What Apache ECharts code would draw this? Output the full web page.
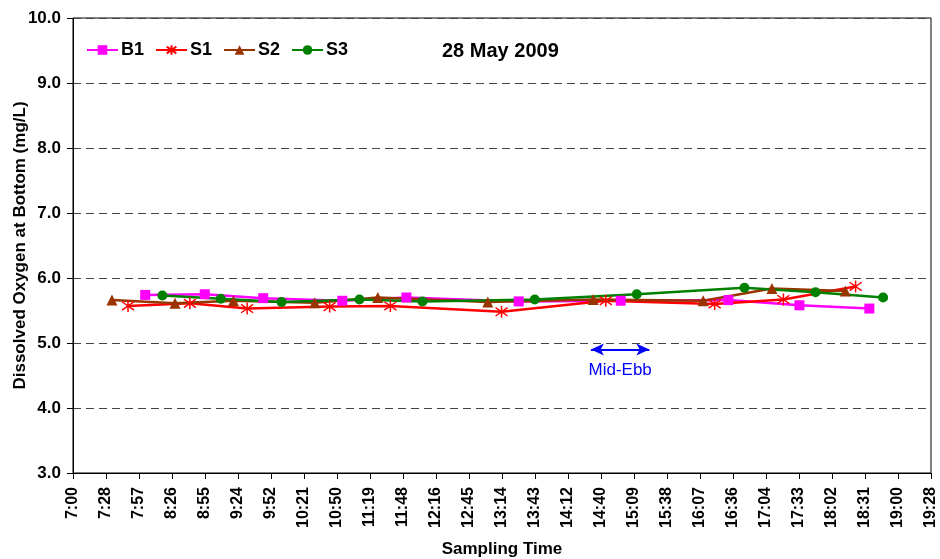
<!DOCTYPE html>
<html>
<head>
<meta charset="utf-8">
<script src="https://cdn.jsdelivr.net/npm/echarts@6/dist/echarts.min.js"></script>
<style>
	html, body { margin: 0; padding: 0; background: #fff; }
	#chart { width: 940px; height: 559px; }
</style>
</head>
<body>
<div id="chart"></div>
<script>
// sampling times and dissolved oxygen (mg/L)
const b1Times = ["8:03", "8:55", "9:46", "10:55", "11:51", "13:29", "14:58", "16:32", "17:34", "18:35"]
const b1Values = [5.74, 5.75, 5.69, 5.65, 5.70, 5.64, 5.65, 5.66, 5.58, 5.53]
const s1Times = ["7:48", "8:42", "9:32", "10:44", "11:37", "13:14", "14:45", "16:20", "17:20", "18:23"]
const s1Values = [5.57, 5.61, 5.53, 5.56, 5.57, 5.48, 5.65, 5.60, 5.67, 5.87]
const s2Times = ["7:34", "8:29", "9:20", "10:31", "11:26", "13:02", "14:34", "16:10", "17:10", "18:14"]
const s2Values = [5.66, 5.61, 5.65, 5.62, 5.70, 5.63, 5.67, 5.65, 5.84, 5.80]
const s3Times = ["8:18", "9:09", "10:02", "11:10", "12:05", "13:43", "15:12", "16:46", "17:48", "18:47"]
const s3Values = [5.73, 5.68, 5.63, 5.67, 5.64, 5.67, 5.75, 5.85, 5.78, 5.70]
const midEbb = ["14:32", "15:23"]
const midEbbLevel = 4.9

// x axis runs from 7:00, one tick every 0.02 day (28.8 min)
const startMin = 7 * 60
const tickStep = 28.8
const tickCount = 26

const toX = (t) => {
	let p = t.split(":")
	return Number(p[0]) * 60 + Number(p[1]) - startMin
}
const pairs = (times, values) => times.map((t, i) => [toX(t), values[i]])
const timeLabel = (v) => {
	let t = Math.floor(startMin + v + 1e-6)
	let m = t % 60
	return Math.floor(t / 60) + ":" + (m < 10 ? "0" + m : m)
}

const asterisk = "path://M5,0L5,10M0.7,1.5L9.3,8.5M0.7,8.5L9.3,1.5"

let chart = echarts.init(document.getElementById("chart"))
let boldText = { fontFamily: "Arial", fontWeight: "bold", color: "#000" }
let option = {
	animation: false,
	backgroundColor: "#fff",
	title: {
		text: "28 May 2009",
		left: 442,
		top: 41,
		padding: 0,
		textStyle: { ...boldText, fontSize: 20 },
	},
	legend: {
		left: 86,
		top: 41,
		padding: 0,
		itemWidth: 31,
		itemHeight: 12,
		itemGap: 11,
		textStyle: { ...boldText, fontSize: 18, padding: [0, 0, 0, -2] },
		data: ["B1", "S1", "S2", "S3"],
	},
	grid: {
		left: 73,
		right: 9,
		top: 18,
		bottom: 86,
		outerBoundsMode: "none",
		show: true,
		borderColor: "#000",
		borderWidth: 1,
	},
	xAxis: {
		type: "value",
		min: 0,
		max: tickStep * tickCount,
		interval: tickStep,
		name: "Sampling Time",
		nameLocation: "middle",
		nameGap: 68,
		nameMoveOverlap: false,
		nameTextStyle: { ...boldText, fontSize: 17 },
		axisLine: { lineStyle: { color: "#000", width: 1 } },
		axisTick: { show: true, length: 6, lineStyle: { color: "#000" } },
		axisLabel: {
			...boldText,
			fontSize: 16,
			rotate: 90,
			margin: 14,
			showMinLabel: true,
			showMaxLabel: true,
			formatter: timeLabel,
		},
		splitLine: { show: false },
	},
	yAxis: {
		type: "value",
		min: 3,
		max: 10,
		interval: 1,
		name: "Dissolved Oxygen at Bottom (mg/L)",
		nameLocation: "middle",
		nameGap: 44,
		nameMoveOverlap: false,
		nameTextStyle: { ...boldText, fontSize: 17 },
		axisLine: { show: true, lineStyle: { color: "#000", width: 1 } },
		axisTick: { show: true, length: 6, lineStyle: { color: "#000" } },
		axisLabel: {
			...boldText,
			fontSize: 17,
			margin: 12,
			formatter: (v) => v.toFixed(1),
		},
		splitLine: { show: true, lineStyle: { color: "#444", type: [8, 5], width: 1 } },
	},
	series: [
		{
			name: "B1",
			type: "line",
			data: pairs(b1Times, b1Values),
			color: "#FF00FF",
			symbol: "rect",
			symbolSize: 10,
			lineStyle: { width: 2.5, color: "#FF00FF" },
			itemStyle: { color: "#FF00FF" },
			markLine: {
				silent: true,
				symbol: ["arrow", "arrow"],
				symbolSize: [9, 13],
				lineStyle: { color: "#0000FF", type: "solid", width: 2 },
				label: {
					show: true,
					position: "insideMiddleBottom",
					distance: 12,
					formatter: "Mid-Ebb",
					color: "#0000FF",
					fontFamily: "Arial",
					fontSize: 17,
				},
				data: [[
					{ coord: [toX(midEbb[0]), midEbbLevel] },
					{ coord: [toX(midEbb[1]), midEbbLevel] },
				]],
			},
		},
		{
			name: "S1",
			type: "line",
			data: pairs(s1Times, s1Values),
			color: "#FF0000",
			symbol: asterisk,
			symbolSize: 12,
			lineStyle: { width: 2.5, color: "#FF0000" },
			itemStyle: { color: "#FF0000", borderColor: "#FF0000", borderWidth: 1.5 },
		},
		{
			name: "S2",
			type: "line",
			data: pairs(s2Times, s2Values),
			color: "#993300",
			symbol: "triangle",
			symbolSize: 11,
			lineStyle: { width: 2.5, color: "#993300" },
			itemStyle: { color: "#993300" },
		},
		{
			name: "S3",
			type: "line",
			data: pairs(s3Times, s3Values),
			color: "#008000",
			symbol: "circle",
			symbolSize: 10,
			lineStyle: { width: 2.5, color: "#008000" },
			itemStyle: { color: "#008000" },
		},
	],
}
chart.setOption(option)
</script>
</body>
</html>
